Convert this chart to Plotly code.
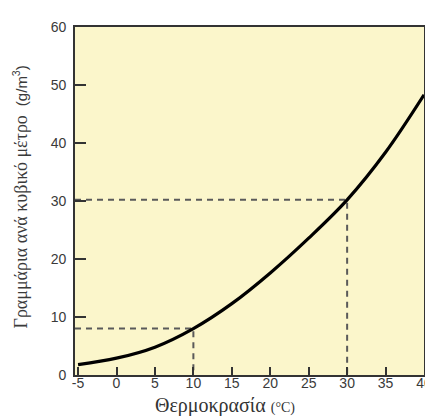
import plotly.graph_objects as go

# Data
temperature = [-5, 0, 5, 10, 15, 20, 25, 30, 35, 40]
density = [1.8, 2.9, 4.8, 8.0, 12.3, 17.6, 23.6, 30.2, 38.4, 48.3]

ref_temps = [10, 30]
ref_densities = [8.0, 30.2]

x_ticks = [-5, 0, 5, 10, 15, 20, 25, 30, 35, 40]
y_ticks = [0, 10, 20, 30, 40, 50, 60]

x_range = [-5.4, 40]
y_range = [0, 60]

fig = go.Figure()

# Dashed reference lines
for t, d in zip(ref_temps, ref_densities):
    fig.add_trace(go.Scatter(
        x=[x_range[0], t, t], y=[d, d, y_range[0]],
        mode="lines",
        line=dict(color="#5a5a5a", width=2, dash="6px,5px"),
        hoverinfo="skip", showlegend=False,
    ))

fig.add_trace(go.Scatter(
    x=temperature, y=density, mode="lines",
    line=dict(color="black", width=3.2, shape="spline", smoothing=1.0),
    showlegend=False,
))

fig.update_layout(
    width=433, height=416,
    margin=dict(l=67, r=9, t=19, b=49),
    paper_bgcolor="white",
    plot_bgcolor="#FBF6CB",
    font=dict(family="Liberation Sans, Arial, sans-serif", size=14, color="#3a3a3a"),
    annotations=[
        dict(
            text='<span style="font-family:Liberation Serif;font-size:18px">Γραμμάρια ανά κυβικό μέτρο</span>'
                 '  <span style="font-family:Liberation Sans;font-size:15px">(g/m<sup>3</sup>)</span>',
            xref="paper", yref="paper", x=0, y=0.51, xshift=-55,
            xanchor="center", yanchor="middle", textangle=-90, showarrow=False,
            font=dict(family="Liberation Serif", size=18, color="#3a3a3a"),
        ),
        dict(
            text='<span style="font-family:Liberation Serif;font-size:20px">Θερμοκρασία</span>'
                 ' <span style="font-family:Liberation Serif;font-size:14px">(°C)</span>',
            xref="paper", yref="paper", x=0.43, y=0, yshift=-30,
            xanchor="center", yanchor="middle", showarrow=False,
            font=dict(family="Liberation Serif", size=20, color="#333333"),
        ),
    ],
)

fig.update_xaxes(
    range=x_range, tickvals=x_ticks, ticktext=[str(v) for v in x_ticks],
    ticks="inside", ticklen=8, tickwidth=1.5, tickcolor="#333333",
    showline=True, linecolor="#333333", linewidth=2, mirror=True,
    showgrid=False, zeroline=False,
    tickfont=dict(size=14, color="#3a3a3a"),
    ticklabelstandoff=-6,
)

fig.update_yaxes(
    range=y_range, tickvals=y_ticks, ticktext=[str(v) + "\u00a0" for v in y_ticks],
    ticks="inside", ticklen=11, tickwidth=1.5, tickcolor="#333333",
    showline=True, linecolor="#333333", linewidth=2, mirror=True,
    showgrid=False, zeroline=False,
    tickfont=dict(size=14, color="#3a3a3a"),
)

fig.write_html("out.html")
